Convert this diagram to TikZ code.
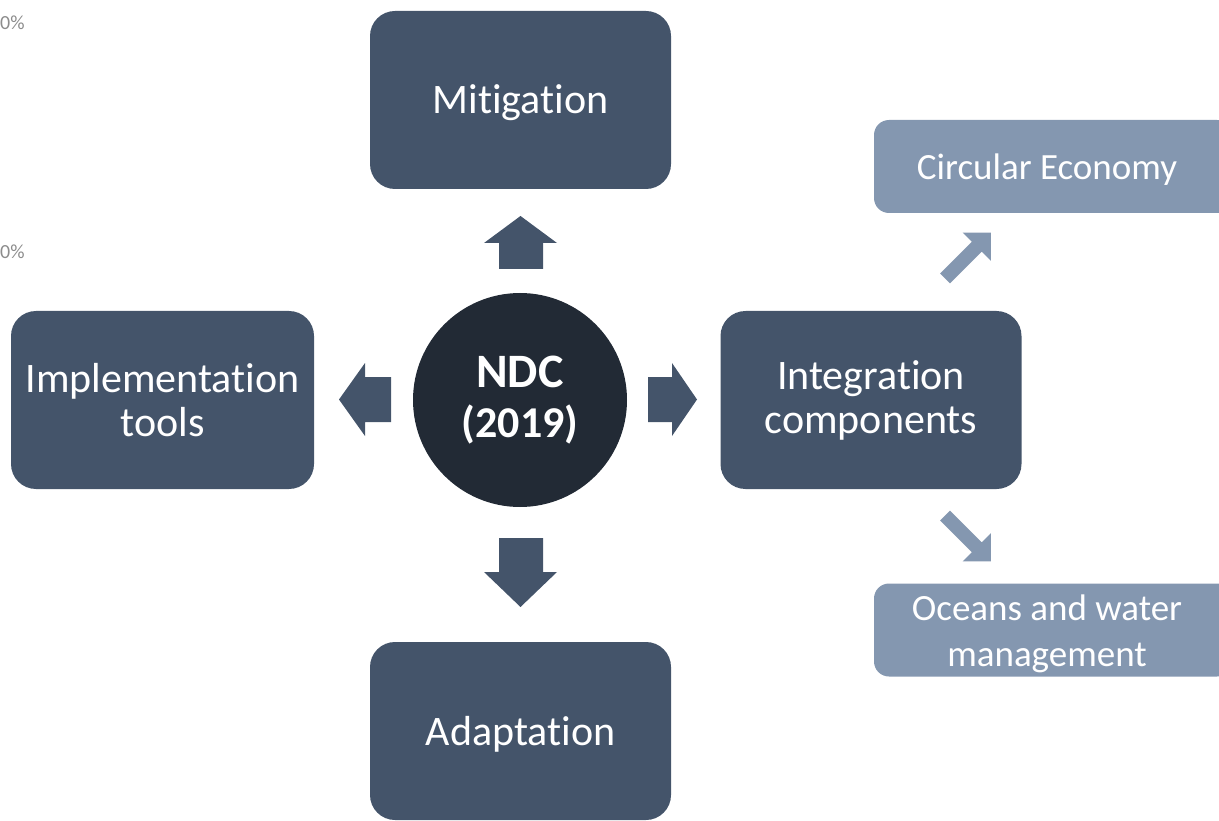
\documentclass[tikz,border=0pt]{standalone}
\usepackage{fontspec}
\setmainfont{Carlito}[Ligatures={NoCommon,NoRequired,NoContextual}]
\definecolor{boxdark}{HTML}{44546A}
\definecolor{circdark}{HTML}{222A35}
\definecolor{boxlight}{HTML}{8497B0}
\definecolor{pctgray}{HTML}{8C8C8C}
\tikzset{
  mainbox/.style={rectangle, rounded corners=25pt, fill=boxdark, draw=none, text=white,
    minimum width=301pt, minimum height=178pt, inner sep=0pt, align=center,
    font=\fontsize{42}{44}\selectfont},
  subbox/.style={rectangle, rounded corners=15pt, fill=boxlight, draw=none,
    minimum height=93pt, inner sep=0pt},
  subtext/.style={text=white, align=center, inner sep=0pt, font=\fontsize{37}{46}\selectfont},
  hub/.style={circle, fill=circdark, draw=none, text=white, minimum size=214pt, inner sep=0pt,
    align=center, font=\bfseries\fontsize{48}{50}\selectfont},
  blockarrow/.style={fill=boxdark, draw=none},
  lightarrow/.style={fill=boxlight, draw=none},
  pct/.style={text=pctgray, font=\fontsize{20}{20}\selectfont, inner sep=0pt, anchor=west}
}
\begin{document}
\begin{tikzpicture}[x=1pt,y=-1pt]
\useasboundingbox (0,0) rectangle (1219,821);
\clip (0,0) rectangle (1219,821);
% percent labels
\node[pct] (p1) at (0,23) {0\%};
\node[pct] (p2) at (0,252) {0\%};
% main boxes
\node[mainbox] (mit) at (520.5,100) {\raisebox{-3pt}[\height][\depth]{Mitigation}};
\node[mainbox] (ada) at (520.5,731) {\raisebox{-3pt}[\height][\depth]{Adaptation}};
\node[mainbox, minimum width=303pt] (imp) at (162.5,400) {Implementation\\tools};
\node[mainbox] (int) at (871,400) {Integration\\components};
% hub
\node[hub] (ndc) at (520,400) {NDC\\\fontsize{44}{44}\selectfont(2019)};
% sub boxes
\node[subbox, minimum width=358pt] (circ) at (1053,166.5) {};
\node[subtext] (circt) at (1047,170) {Circular Economy};
\node[subbox, minimum width=358pt] (ocean) at (1053,630) {};
\node[subtext] (oceant) at (1047,634) {Oceans and water\\management};
% block arrows around hub
\fill[blockarrow] (499,269) -- (499,243) -- (484,243) -- (520.5,216) -- (557,243) -- (543,243) -- (543,269) -- cycle;
\fill[blockarrow] (499,538) -- (499,572) -- (484,572) -- (520.5,607) -- (557,572) -- (543,572) -- (543,538) -- cycle;
\fill[blockarrow] (391,377) -- (365,377) -- (365,363) -- (339,399.5) -- (365,436) -- (365,422) -- (391,422) -- cycle;
\fill[blockarrow] (648,377) -- (672,377) -- (672,363) -- (697,399.5) -- (672,436) -- (672,422) -- (648,422) -- cycle;
% diagonal arrows
\begin{scope}[shift={(945,278.5)}, rotate=45]
\fill[lightarrow] (0,-7) -- (45,-7) -- (45,-20) -- (65,0) -- (45,20) -- (45,7) -- (0,7) -- cycle;
\end{scope}
\begin{scope}[shift={(945,515.5)}, rotate=-45]
\fill[lightarrow] (0,-7) -- (45,-7) -- (45,-20) -- (65,0) -- (45,20) -- (45,7) -- (0,7) -- cycle;
\end{scope}
\end{tikzpicture}
\end{document}
